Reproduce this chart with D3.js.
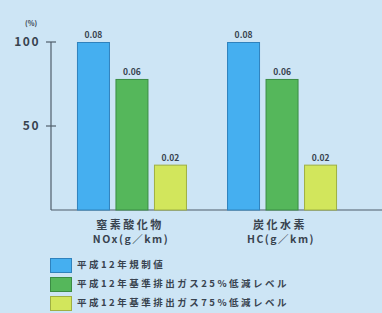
<!DOCTYPE html>
<html><head><meta charset="utf-8">
<script src="https://cdn.jsdelivr.net/npm/d3@7"></script>
<style>
html,body{margin:0;padding:0;background:#cde5f5;}
svg{display:block;}
text{font-family:"Noto Sans CJK JP","Noto Sans",sans-serif;font-weight:bold;fill:#38434f;}
</style></head>
<body>
<svg id="c" width="382" height="313"></svg>
<script>
const categories = ["NOx", "HC"];
const categoryNames = ["窒素酸化物", "炭化水素"];
const categoryUnits = ["NOx(g／km)", "HC(g／km)"];
const seriesNames = ["平成12年規制値", "平成12年基準排出ガス25%低減レベル", "平成12年基準排出ガス75%低減レベル"];
const seriesColors = ["#45aff0", "#55b75b", "#d2e65c"];
const seriesStroke = ["#2f82bd", "#3b8c44", "#9fb042"];
const percentNOx = [100, 78, 27];
const percentHC = [100, 78, 27];
const labelsNOx = ["0.08", "0.06", "0.02"];
const labelsHC = ["0.08", "0.06", "0.02"];
const yTicks = [50, 100];

const values = [percentNOx, percentHC];
const labels = [labelsNOx, labelsHC];

const svg = d3.select("#c");
const x0 = d3.scaleBand().domain(categories).range([57, 357]).paddingInner(0.267).paddingOuter(0.133);
const x1 = d3.scaleBand().domain(d3.range(3)).range([0, x0.bandwidth()]).paddingInner(0.143).paddingOuter(0);
const y = d3.scaleLinear().domain([0, 100]).range([210, 42]);

// baseline
svg.append("line").attr("x1", 51).attr("x2", 382).attr("y1", y(0)).attr("y2", y(0))
  .attr("stroke", "#4f5d6b").attr("stroke-width", 1.2);

// bars
categories.forEach((c, ci) => {
  const g = svg.append("g").attr("transform", `translate(${x0(c)},0)`);
  values[ci].forEach((v, si) => {
    g.append("rect").attr("x", x1(si) + 0.5).attr("y", y(v) + 0.5)
      .attr("width", x1.bandwidth() - 1).attr("height", y(0) - y(v) - 0.5)
      .attr("fill", seriesColors[si]).attr("stroke", seriesStroke[si]).attr("stroke-width", 1);
    g.append("text").attr("x", x1(si) + x1.bandwidth() / 2).attr("y", y(v) - 4)
      .attr("text-anchor", "middle").attr("font-size", 8.5).text(labels[ci][si]);
  });
  const cx = x0(c) + x0.bandwidth() / 2;
  svg.append("text").attr("x", cx - 2).attr("y", 229).attr("text-anchor", "middle")
    .attr("font-size", 11).attr("letter-spacing", 2.5).text(categoryNames[ci]);
  svg.append("text").attr("x", cx - 1).attr("y", 243).attr("text-anchor", "middle")
    .attr("font-size", 10.5).attr("letter-spacing", 1.5).text(categoryUnits[ci]);
});

// y axis
const ax = svg.append("g").attr("transform", "translate(51,0)");
ax.append("line").attr("x1", 0).attr("x2", 0).attr("y1", y(100)).attr("y2", y(0))
  .attr("stroke", "#4f5d6b").attr("stroke-width", 1.2);
yTicks.forEach(t => {
  ax.append("line").attr("x1", -5).attr("x2", 5).attr("y1", y(t)).attr("y2", y(t))
    .attr("stroke", "#4f5d6b").attr("stroke-width", 1.2);
  ax.append("text").attr("x", -11).attr("y", y(t)).attr("dy", "0.36em")
    .attr("text-anchor", "end").attr("font-size", 12).attr("letter-spacing", 1.5).text(t);
});
svg.append("text").attr("x", 25).attr("y", 26).attr("font-size", 7).text("(%)");

// legend
seriesNames.forEach((s, i) => {
  const ly = 258 + i * 19;
  svg.append("rect").attr("x", 50.5).attr("y", ly + 0.5).attr("width", 21).attr("height", 14)
    .attr("fill", seriesColors[i]).attr("stroke", seriesStroke[i]).attr("stroke-width", 1);
  svg.append("text").attr("x", 77).attr("y", ly + 7).attr("dy", "0.36em")
    .attr("font-size", 9.5).attr("letter-spacing", 2.5).text(s);
});
</script>
</body></html>
